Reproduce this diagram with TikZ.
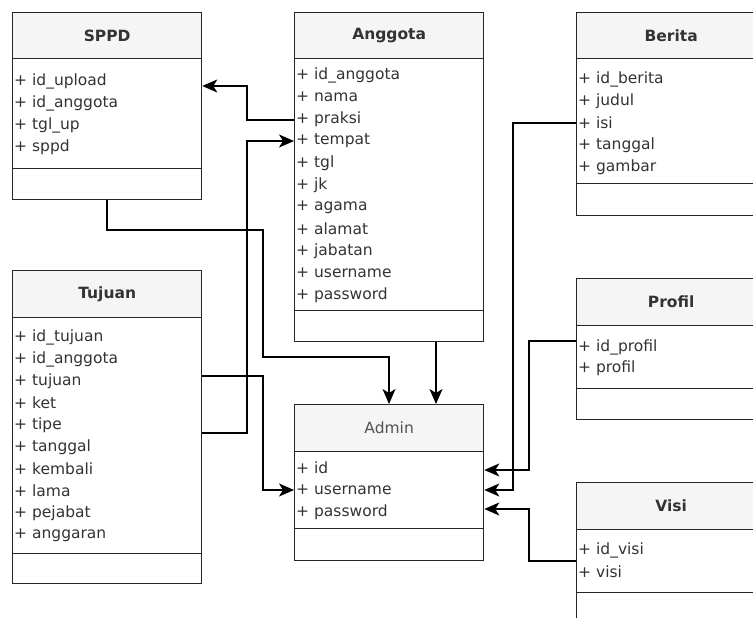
\documentclass[tikz,border=0pt]{standalone}
\usepackage{fontspec}
\setmainfont{DejaVu Sans}
\usetikzlibrary{arrows.meta}
\definecolor{hdrfill}{HTML}{F5F5F5}
\definecolor{bordc}{HTML}{262626}
\definecolor{txtc}{HTML}{333333}
\newcommand\attrfont{\fontsize{15.5}{18}\selectfont}
\newcommand\titlefont{\fontsize{15.5}{18}\selectfont\bfseries}
\newcommand\plaintitlefont{\fontsize{15.5}{18}\selectfont}
\tikzset{
  boxpart/.style={draw=bordc, line width=1.3pt, anchor=north west, inner sep=0pt, minimum width=189pt},
  hdr/.style={boxpart, fill=hdrfill, text=txtc, font=\titlefont},
  hdrplain/.style={boxpart, fill=hdrfill, text=txtc!85, font=\plaintitlefont},
  comp/.style={boxpart, fill=white},
  attr/.style={anchor=west, inner sep=0pt, text=txtc, font=\attrfont},
  conn/.style={draw=black, line width=1.3pt},
  arr/.style={conn, -{Stealth[length=15pt,width=13pt,inset=4pt]}},
}
\begin{document}
\begin{tikzpicture}[x=1pt,y=-1pt]
\useasboundingbox (0,0) rectangle (753,618);
\clip (0,0) rectangle (753,618);
\fill[white] (0,0) rectangle (753,618);

% ---------- SPPD ----------
\node[hdr, minimum height=46pt] (sppdH) at (12,12) {SPPD};
\node[comp, minimum height=110pt] (sppdA) at (12,58) {};
\node[comp, minimum height=31pt] (sppdO) at (12,168) {};
\foreach \t [count=\i] in {id\_upload,id\_anggota,tgl\_up,sppd}
  \node[attr] (sppd-\i) at (14,81+22*\i-22) {+ \t};

% ---------- Anggota ----------
\node[hdr, minimum height=46pt] (angH) at (294,12) {Anggota};
\node[comp, minimum height=252pt] (angA) at (294,58) {};
\node[comp, minimum height=31pt] (angO) at (294,310) {};
\foreach \t [count=\i] in {id\_anggota,nama,praksi,tempat,tgl,jk,agama,alamat,jabatan,username,password}
  \node[attr] (ang-\i) at (296,75+22*\i-22) {+ \t};

% ---------- Tujuan ----------
\node[hdr, minimum height=47pt] (tujH) at (12,270) {Tujuan};
\node[comp, minimum height=236pt] (tujA) at (12,317) {};
\node[comp, minimum height=30pt] (tujO) at (12,553) {};
\foreach \t [count=\i] in {id\_tujuan,id\_anggota,tujuan,ket,tipe,tanggal,kembali,lama,pejabat,anggaran}
  \node[attr] (tuj-\i) at (14,337+22*\i-22) {+ \t};

% ---------- Admin ----------
\node[hdrplain, minimum height=47pt] (admH) at (294,404) {Admin};
\node[comp, minimum height=77pt] (admA) at (294,451) {};
\node[comp, minimum height=32pt] (admO) at (294,528) {};
\foreach \t [count=\i] in {id,username,password}
  \node[attr] (adm-\i) at (296,468+22*\i-22) {+ \t};

% ---------- Berita ----------
\node[hdr, minimum height=46pt] (berH) at (576,12) {Berita};
\node[comp, minimum height=125pt] (berA) at (576,58) {};
\node[comp, minimum height=32pt] (berO) at (576,183) {};
\foreach \t [count=\i] in {id\_berita,judul,isi,tanggal,gambar}
  \node[attr] (ber-\i) at (578,79+22*\i-22) {+ \t};

% ---------- Profil ----------
\node[hdr, minimum height=47pt] (proH) at (576,278) {Profil};
\node[comp, minimum height=63pt] (proA) at (576,325) {};
\node[comp, minimum height=31pt] (proO) at (576,388) {};
\foreach \t [count=\i] in {id\_profil,profil}
  \node[attr] (pro-\i) at (578,347+21.5*\i-21.5) {+ \t};

% ---------- Visi ----------
\node[hdr, minimum height=47pt] (visH) at (576,482) {Visi};
\node[comp, minimum height=63pt] (visA) at (576,529) {};
\node[comp, minimum height=31pt] (visO) at (576,592) {};
\foreach \t [count=\i] in {id\_visi,visi}
  \node[attr] (vis-\i) at (578,550+22*\i-22) {+ \t};

% ---------- connectors ----------
% Anggota (praksi) -> SPPD
\draw[arr] (angA.west |- 0,120) -- (247,120) |- (sppdA.east |- 0,86);
% Tujuan -> Anggota (tempat)
\draw[arr] (tujA.east |- 0,433) -- (247,433) |- (ang-4.west -| angA.west);
% SPPD -> Admin
\draw[arr] (sppdO.south -| 107,0) -- (107,230) -| (263,357) -| (admH.north -| 389,0);
% Anggota -> Admin
\draw[arr] (angO.south -| 436,0) -- (admH.north -| 436,0);
% Tujuan -> Admin (username)
\draw[arr] (tujA.east |- 0,376) -| (263,490) -- (adm-2.west -| admA.west);
% Berita -> Admin
\draw[arr] (ber-3.west -| berA.west) -| (513,490) -- (adm-2 -| admA.east);
% Profil -> Admin
\draw[arr] (proA.west |- 0,341) -| (529,470) -- (admA.east |- 0,470);
% Visi -> Admin
\draw[arr] (visA.west |- 0,561) -| (529,509) -- (admA.east |- 0,509);
\end{tikzpicture}
\end{document}
